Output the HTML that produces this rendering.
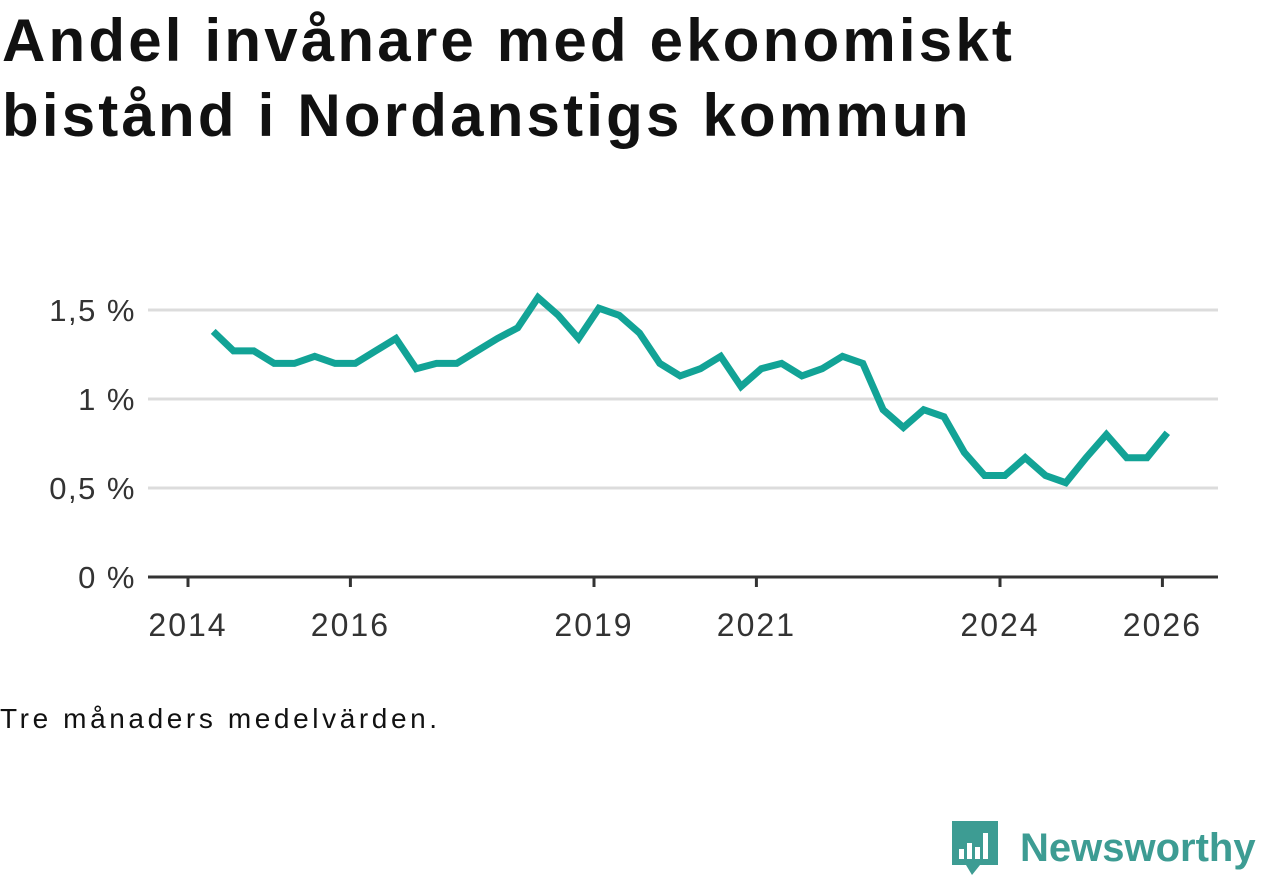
<!DOCTYPE html>
<html><head><meta charset="utf-8"><style>
body{margin:0;width:1262px;height:879px;background:#fff;font-family:"Liberation Sans",sans-serif;overflow:hidden;position:relative}
h1{position:absolute;left:2px;top:3px;margin:0;font-size:60px;line-height:75px;font-weight:bold;color:#111;letter-spacing:3.2px;white-space:nowrap}
#note{position:absolute;left:0;top:703px;font-size:28px;color:#111;letter-spacing:3.6px}
#logo{position:absolute;left:950px;top:819px;display:flex;align-items:center}
</style></head><body>
<h1>Andel invånare med ekonomiskt<br>bistånd i Nordanstigs kommun</h1>
<svg id="chart" width="1262" height="879" style="position:absolute;left:0;top:0"></svg>
<div id="note">Tre månaders medelvärden.</div>
<div id="logo">
<svg width="50" height="58"><path d="M2 2h46v44H30l-8 10-6-10H2z" fill="#3d9c93"/><rect x="9" y="30" width="5" height="10" fill="#fff"/><rect x="17" y="24" width="5" height="16" fill="#fff"/><rect x="25" y="28" width="5" height="12" fill="#fff"/><rect x="33" y="14" width="5" height="26" fill="#fff"/></svg>
<span style="font-size:40px;font-weight:bold;color:#3d9c93;margin-left:20px">Newsworthy</span>
</div>
<script>
const values=[1.38,1.27,1.27,1.20,1.20,1.24,1.20,1.20,1.27,1.34,1.17,1.20,1.20,1.27,1.34,1.40,1.57,1.47,1.34,1.51,1.47,1.37,1.20,1.13,1.17,1.24,1.07,1.17,1.20,1.13,1.17,1.24,1.20,0.94,0.84,0.94,0.90,0.70,0.57,0.57,0.67,0.57,0.53,0.67,0.80,0.67,0.67,0.81];
const startYear=2014.31;
const step=0.25;
const yTicks=[0,0.5,1,1.5];
const yTickLabels=["0 %","0,5 %","1 %","1,5 %"];
const xTicks=[2014,2016,2019,2021,2024,2026];
const ns="http://www.w3.org/2000/svg";
const svg=document.getElementById('chart');
const x=v=>188+(v-2014)*81.2;
const y=v=>577-v*178;
function mk(t,a){const e=document.createElementNS(ns,t);for(const k in a)e.setAttribute(k,a[k]);svg.appendChild(e);return e;}
yTicks.forEach((t,i)=>{
 if(t>0){const g=mk('line',{x1:148,x2:1218,y1:y(t),y2:y(t),stroke:'#dcdcdc','stroke-width':3});
 
 }
 const l=mk('text',{x:136,y:y(t)+11,'text-anchor':'end','font-size':31,'letter-spacing':1.5,fill:'#333','font-family':'Liberation Sans, sans-serif'});
 
 
 l.textContent=yTickLabels[i];
});
const ax=mk('line',{x1:148,x2:1218,y1:577,y2:577,stroke:'#333','stroke-width':3});


xTicks.forEach(t=>{
 const k=mk('line',{x1:x(t),x2:x(t),y1:577,y2:587,stroke:'#333','stroke-width':3});
 
 
 const l=mk('text',{x:x(t),y:636,'text-anchor':'middle','font-size':32,'letter-spacing':2,fill:'#333','font-family':'Liberation Sans, sans-serif'});
 
 
 l.textContent=t;
});
const pts=values.map((v,i)=>x(startYear+i*step).toFixed(1)+','+y(v).toFixed(1)).join(' ');
const line=mk('polyline',{points:pts,fill:'none',stroke:'#12a396','stroke-width':7,'stroke-linejoin':'miter'});


</script>
</body></html>
